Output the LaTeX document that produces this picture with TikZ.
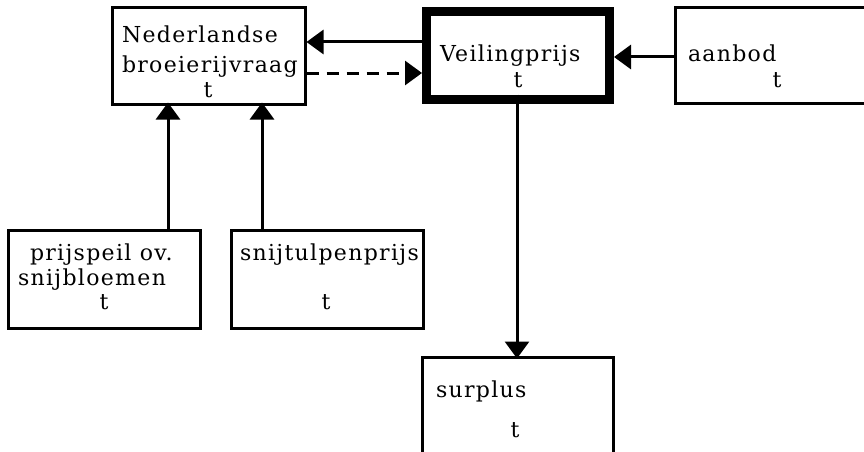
\documentclass[tikz,border=0pt]{standalone}
\usepackage{fontspec}
\setmainfont{DejaVu Serif}[LetterSpace=6]
\usetikzlibrary{arrows.meta}
\tikzset{
  box/.style={draw, line width=3pt, inner sep=0pt, outer sep=0pt},
  mainbox/.style={draw, line width=9pt, inner sep=0pt, outer sep=0pt},
  txt/.style={inner sep=0pt, outer sep=0pt, anchor=base west, font=\fontsize{22}{26}\selectfont},
  tt/.style={inner sep=0pt, outer sep=0pt, anchor=base, font=\fontsize{22}{26}\selectfont},
  arr/.style={line width=3pt, -{Triangle[length=17pt,width=24pt]}},
  darr/.style={arr, dash pattern=on 12pt off 8pt}
}
\begin{document}
\begin{tikzpicture}[x=1pt,y=-1pt]
\useasboundingbox (0,0) rectangle (864,452);
% boxes
\node[box, minimum width=193pt, minimum height=96pt] (N) at (208.5,56) {};
\node[mainbox, minimum width=183pt, minimum height=87pt] (V) at (518,55.5) {};
\node[box, minimum width=200pt, minimum height=95pt] (A) at (775,55.5) {};
\node[box, minimum width=192pt, minimum height=98pt] (P) at (104,279) {};
\node[box, minimum width=192pt, minimum height=98pt] (S) at (327,279) {};
\node[box, minimum width=191pt, minimum height=96pt] (U) at (517.5,405) {};
% texts
\node[txt] (n1) at (122,43) {Nederlandse};
\node[txt] (n2) at (122,72) {broeierijvraag};
\node[tt] (n3) at (208,97) {t};
\node[txt] (v1) at (440,62) {Veilingprijs};
\node[tt] (v2) at (518,87) {t};
\node[txt] (a1) at (688,62) {aanbod};
\node[tt] (a2) at (777,87) {t};
\node[txt] (p1) at (30,260) {prijspeil ov.};
\node[txt] (p2) at (18,285) {snijbloemen};
\node[tt] (p3) at (104,309) {t};
\node[txt] (s1) at (240,260) {snijtulpenprijs};
\node[tt] (s2) at (326,309) {t};
\node[txt] (u1) at (436,397) {surplus};
\node[tt] (u2) at (515,437) {t};
% connector levels
\coordinate (ya) at (0,42);
\coordinate (yb) at (0,73);
\coordinate (yc) at (0,57);
\coordinate (xa) at (168,0);
\coordinate (xb) at (262,0);
\coordinate (xc) at (517,0);
% connectors
\draw[arr] ([xshift=-4.5pt]V.west |- ya) -- ([xshift=1.5pt]N.east |- ya);
\draw[darr] ([xshift=1.5pt]N.east |- yb) -- ([xshift=-4.5pt]V.west |- yb);
\draw[arr] ([xshift=-1.5pt]A.west |- yc) -- ([xshift=4.5pt]V.east |- yc);
\draw[arr] ([yshift=-1.5pt]P.north -| xa) -- ([yshift=1.5pt]N.south -| xa);
\draw[arr] ([yshift=-1.5pt]S.north -| xb) -- ([yshift=1.5pt]N.south -| xb);
\draw[arr] ([yshift=4.5pt]V.south -| xc) -- ([yshift=-1.5pt]U.north -| xc);
\end{tikzpicture}
\end{document}
